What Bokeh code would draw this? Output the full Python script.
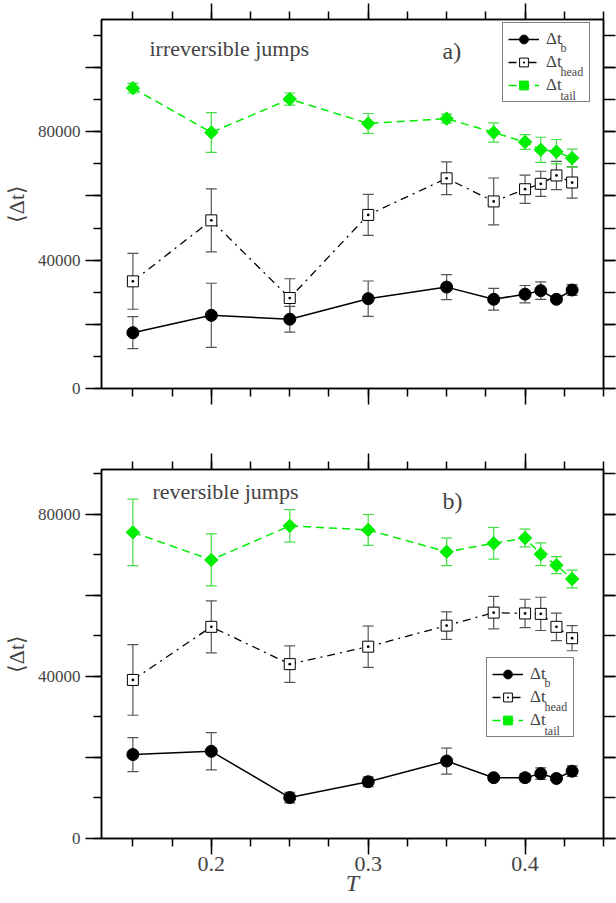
from bokeh.plotting import figure
from bokeh.models import (ColumnDataSource, Whisker, TeeHead, Legend, LegendItem, Label,
                          LinearAxis, SingleIntervalTicker, Range1d, CustomJSTickFormatter,
                          BasicTickFormatter)
from bokeh.layouts import column
from bokeh.embed import file_html
from bokeh.resources import INLINE

T = [0.15, 0.2, 0.25, 0.3, 0.35, 0.38, 0.4, 0.41, 0.42, 0.43]

irr_b = [17400, 22800, 21600, 28000, 31600, 27800, 29400, 30500, 27800, 30700]
irr_b_err = [5000, 10000, 4000, 5500, 3900, 3400, 2700, 2700, 1000, 1700]
irr_head = [33400, 52400, 28200, 54100, 65500, 58300, 62100, 63800, 66400, 64200]
irr_head_err = [8700, 9800, 6000, 6400, 5100, 7300, 4400, 3900, 4400, 4900]
irr_tail = [93600, 79800, 90200, 82600, 84100, 79800, 76800, 74400, 73800, 71800]
irr_tail_err = [1500, 6200, 1900, 3100, 1400, 3000, 2300, 3900, 3800, 2800]

rev_b = [20700, 21500, 10100, 14000, 19100, 15000, 15000, 16000, 14800, 16600]
rev_b_err = [4200, 4600, 1300, 1200, 3200, 500, 1000, 1400, 500, 1300]
rev_head = [39100, 52200, 43000, 47300, 52500, 55700, 55500, 55400, 52200, 49400]
rev_head_err = [8700, 6400, 4500, 5100, 3400, 4000, 3500, 4100, 3400, 3100]
rev_tail = [75500, 68700, 77100, 76100, 70700, 72800, 74100, 70100, 67400, 64000]
rev_tail_err = [8200, 6400, 4000, 3800, 3400, 3900, 2200, 2800, 2100, 2200]

series_names = ["b", "head", "tail"]
y_hidden_labels = {20000: "", 60000: "", 100000: ""}

FONT = "Liberation Serif"
GREEN = "#00ee00"
GREEN_ERR = "#44dd44"
BLACK_ERR = "#555555"


def whisker(p, x, y, err, color):
    src = ColumnDataSource(dict(x=x, upper=[a + e for a, e in zip(y, err)],
                                lower=[a - e for a, e in zip(y, err)]))
    w = Whisker(source=src, base="x", upper="upper", lower="lower", dimension="height",
                line_color=color, line_width=1.2, level="underlay",
                upper_head=TeeHead(size=11, line_color=color, line_width=1.2),
                lower_head=TeeHead(size=11, line_color=color, line_width=1.2))
    p.add_layout(w)


def panel(b, b_err, head, head_err, tail, tail_err, ymax, note, tag,
          note_pos, tag_pos, leg_pos, show_x_labels, top, bottom):
    p = figure(frame_width=502, frame_height=369, min_border_left=101, min_border_right=13,
               min_border_top=top, min_border_bottom=bottom,
               x_range=Range1d(0.13, 0.45), y_range=Range1d(0, ymax),
               x_axis_location=None, y_axis_location=None,
               output_backend="svg", toolbar_location=None)
    p.grid.visible = False
    p.outline_line_color = "black"
    p.outline_line_width = 1.5

    def xt():
        return SingleIntervalTicker(interval=0.1, num_minor_ticks=4)

    def yt():
        return SingleIntervalTicker(interval=20000, num_minor_ticks=2)

    def style(ax, maj, mnr):
        ax.axis_line_width = 1.5
        ax.major_tick_line_width = 1.5
        ax.minor_tick_line_width = 1.5
        ax.major_tick_in = 0
        ax.minor_tick_in = 0
        ax.major_tick_out = maj
        ax.minor_tick_out = mnr

    def blank(ax):
        ax.formatter = CustomJSTickFormatter(code="return ''")
        ax.major_label_text_font_size = "0px"
        ax.major_label_standoff = 0

    # left axis
    la = LinearAxis(ticker=yt(), formatter=BasicTickFormatter(use_scientific=False),
                    major_label_overrides=y_hidden_labels, axis_label="⟨Δt⟩")
    style(la, 16, 8)
    la.major_label_text_font = FONT
    la.major_label_text_font_size = "17px"
    la.major_label_standoff = 5
    la.axis_label_text_font = FONT
    la.axis_label_text_font_size = "22px"
    la.axis_label_text_font_style = "normal"
    la.axis_label_standoff = 6
    p.add_layout(la, "left")

    # right axis
    ra = LinearAxis(ticker=yt())
    style(ra, 12, 12)
    blank(ra)
    p.add_layout(ra, "right")

    # top axis
    ta = LinearAxis(ticker=xt())
    style(ta, 16, 8)
    blank(ta)
    p.add_layout(ta, "above")

    # bottom axis
    ba = LinearAxis(ticker=xt())
    style(ba, 16, 8)
    if show_x_labels:
        ba.major_label_text_font = FONT
        ba.major_label_text_font_size = "22px"
        ba.major_label_standoff = 2
        ba.axis_label = "T"
        ba.axis_label_text_font = FONT
        ba.axis_label_text_font_size = "24px"
        ba.axis_label_text_font_style = "italic"
        ba.axis_label_standoff = -4
    else:
        blank(ba)
    p.add_layout(ba, "below")

    # series b
    whisker(p, T, b, b_err, BLACK_ERR)
    l1 = p.line(T, b, line_color="black", line_width=1.5)
    s1 = p.scatter(T, b, marker="circle", size=12, fill_color="black", line_color="black")
    # series head
    whisker(p, T, head, head_err, BLACK_ERR)
    l2 = p.line(T, head, line_color="black", line_width=1.3, line_dash="8 5 2 5")
    s2 = p.scatter(T, head, marker="square_dot", size=11, fill_color="white",
                   line_color="black", line_width=1)
    # series tail
    whisker(p, T, tail, tail_err, GREEN_ERR)
    l3 = p.line(T, tail, line_color=GREEN, line_width=1.5, line_dash="8 5")
    s3 = p.scatter(T, tail, marker="square", angle=0.785398, size=9.5,
                   fill_color=GREEN, line_color=GREEN)

    lx, ly = leg_pos
    leg = Legend(items=[LegendItem(label="Δt", renderers=[l1, s1]),
                        LegendItem(label="Δt", renderers=[l2, s2]),
                        LegendItem(label="Δt", renderers=[l3, s3])],
                 location=(lx, ly), margin=0, padding=5, spacing=1,
                 glyph_width=31, glyph_height=22, label_height=22, label_width=38,
                 label_standoff=7, label_text_font=FONT, label_text_font_size="17px",
                 border_line_color="black", border_line_width=1.2,
                 background_fill_alpha=0.0)
    p.add_layout(leg)
    for name, dy in zip(series_names, [23, 47.5, 71]):
        p.add_layout(Label(x=lx + 58, y=ly + 78 - dy, x_units="screen", y_units="screen",
                           text=name, text_font=FONT, text_font_size="12px",
                           text_baseline="alphabetic", text_align="left", level="overlay"))

    p.add_layout(Label(x=note_pos[0], y=note_pos[1], x_units="screen", y_units="screen",
                       text=note, text_font=FONT, text_font_size="22px",
                       text_baseline="middle", text_align="left"))
    p.add_layout(Label(x=tag_pos[0], y=tag_pos[1], x_units="screen", y_units="screen",
                       text=tag, text_font=FONT, text_font_size="24px",
                       text_baseline="middle", text_align="left"))
    return p


p1 = panel(irr_b, irr_b_err, irr_head, irr_head_err, irr_tail, irr_tail_err, 115000,
           "irreversible jumps", "a)", (48, 340), (341, 338), (401, 286), False, 19, 52)
p2 = panel(rev_b, rev_b_err, rev_head, rev_head_err, rev_tail, rev_tail_err, 91000,
           "reversible jumps", "b)", (51, 347), (341, 338), (385, 101), True, 29, 65)

layout = column(p1, p2, spacing=0)
open("out.html", "w").write(file_html(layout, INLINE))
